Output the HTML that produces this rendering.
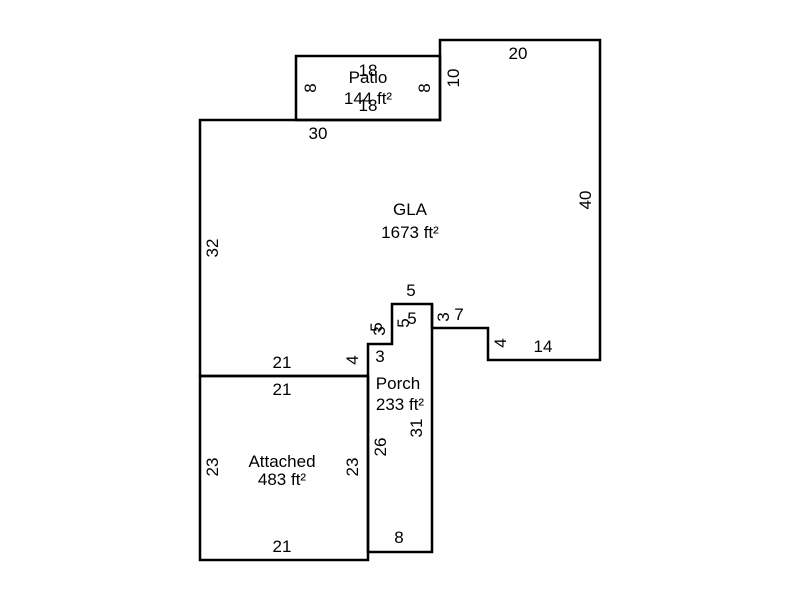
<!DOCTYPE html>
<html><head><meta charset="utf-8"><style>html,body{margin:0;padding:0;background:#fff}</style></head>
<body>
<svg width="800" height="600" xmlns="http://www.w3.org/2000/svg" font-family="Liberation Sans, Arial, sans-serif" font-size="17" fill="#000">
<g fill="none" stroke="#000" stroke-width="2.5">
<path d="M200,120 L440,120 L440,40 L600,40 L600,360 L488,360 L488,328 L432,328 L432,304 L392,304 L392,344 L368,344 L368,376 L200,376 Z"/>
<rect x="296" y="56" width="144" height="64"/>
<path d="M368,376 L368,552 L432,552 L432,304"/>
<rect x="200" y="376" width="168" height="184"/>
</g>
<g text-anchor="middle">
<text x="368" y="83">Patio</text>
<text x="368" y="104">144 ft²</text>
<text x="368" y="76">18</text>
<text x="368" y="111">18</text>
<text x="518" y="59">20</text>
<text x="318" y="139">30</text>
<text x="410" y="215">GLA</text>
<text x="410" y="238">1673 ft²</text>
<text x="411" y="296">5</text>
<text x="412" y="324">5</text>
<text x="459" y="320">7</text>
<text x="543" y="352">14</text>
<text x="380" y="362">3</text>
<text x="282" y="368">21</text>
<text x="282" y="395">21</text>
<text x="398" y="389">Porch</text>
<text x="400" y="410">233 ft²</text>
<text x="282" y="467">Attached</text>
<text x="282" y="485">483 ft²</text>
<text x="282" y="552">21</text>
<text x="399" y="543">8</text>
<g>
<text transform="translate(316,88) rotate(-90)">8</text>
<text transform="translate(430,88) rotate(-90)">8</text>
<text transform="translate(459,78) rotate(-90)">10</text>
<text transform="translate(591,200) rotate(-90)">40</text>
<text transform="translate(218,248) rotate(-90)">32</text>
<text transform="translate(382,327) rotate(-90)">5</text>
<text transform="translate(385,331) rotate(-90)">3</text>
<text transform="translate(409,323) rotate(-90)">5</text>
<text transform="translate(449,317) rotate(-90)">3</text>
<text transform="translate(506,343) rotate(-90)">4</text>
<text transform="translate(358,360) rotate(-90)">4</text>
<text transform="translate(422,428) rotate(-90)">31</text>
<text transform="translate(386,447) rotate(-90)">26</text>
<text transform="translate(218,467) rotate(-90)">23</text>
<text transform="translate(358,467) rotate(-90)">23</text>
</g>
</g>
</svg>
</body></html>
